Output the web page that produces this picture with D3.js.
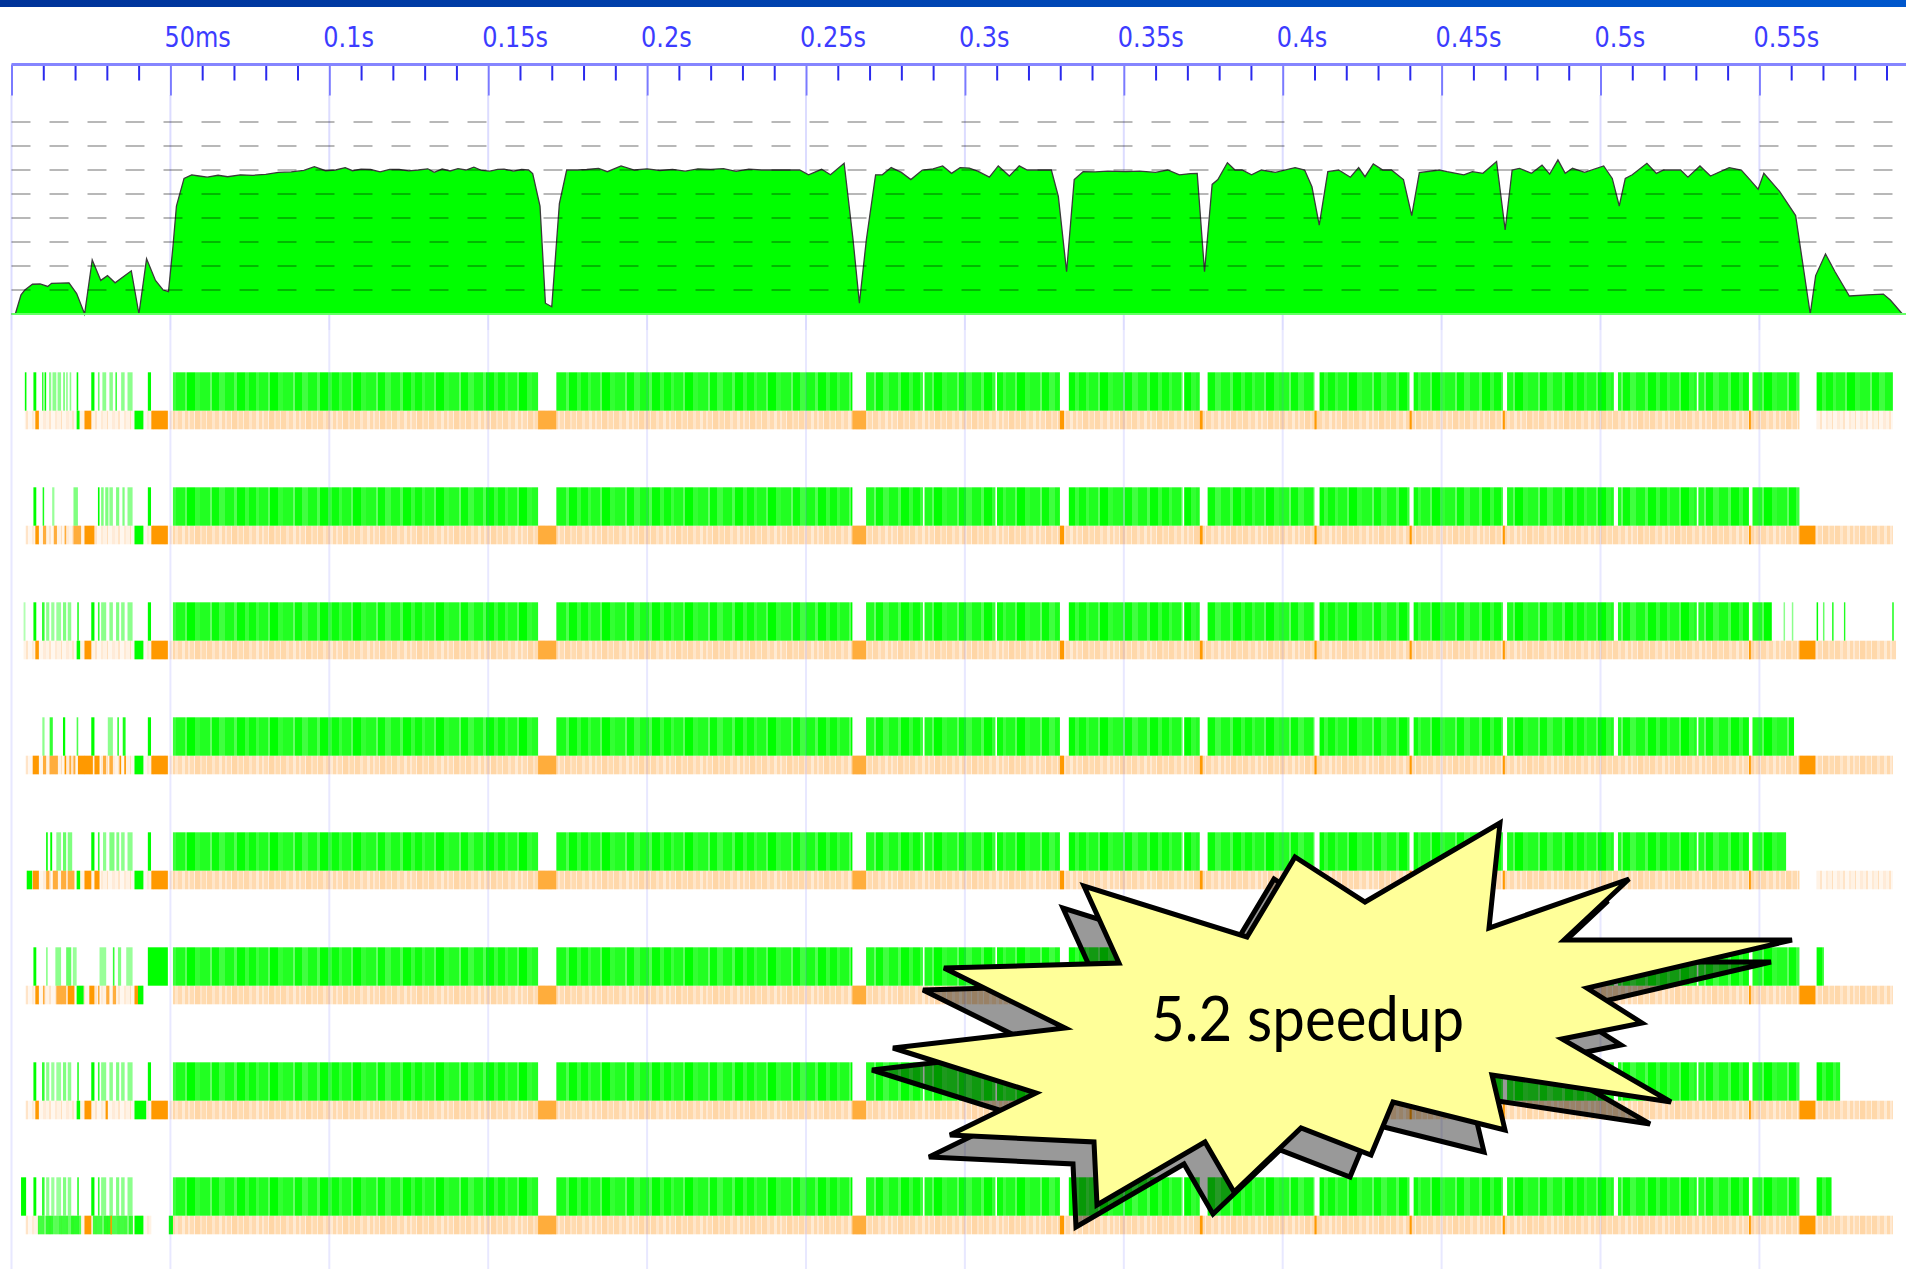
<!DOCTYPE html>
<html>
<head>
<meta charset="utf-8">
<script src="https://cdn.jsdelivr.net/npm/d3@7"></script>
<style>
  body { margin: 0; background: #fff; overflow: hidden; }
</style>
</head>
<body>
<script>
// ---- axis ----
var majorTicks = [0, 50, 100, 150, 200, 250, 300, 350, 400, 450, 500, 550];
var tickLabels = ["", "50ms", "0.1s", "0.15s", "0.2s", "0.25s", "0.3s", "0.35s", "0.4s", "0.45s", "0.5s", "0.55s"];
var gridLevels = [1, 2, 3, 4, 5, 6, 7, 8];

// ---- activity profile (time in ms, active HECs) ----
var actTime = [0, 1.2, 3.0, 4.2, 6.6, 9.0, 11.4, 12.6, 18.1, 20.5, 23.0, 25.4, 28.1, 30.2, 32.6, 37.7, 40.1, 42.5, 45.3, 47.7, 49.4,
  50.8, 51.9, 54.3, 56.7, 59, 61.6, 65, 68, 72, 76, 80, 84, 88, 92, 95.3, 98.8, 102, 105, 107.3, 110, 113, 116, 119, 122, 125,
  128, 131, 133, 135.5, 138, 140.5, 143, 145.5, 148, 150.5, 153, 155, 158, 160.5, 162.7, 164, 166.3, 168, 170, 172.4, 174.7,
  178, 181, 184.7, 187.5, 191.8, 196, 200, 204, 208, 212, 216, 220, 224, 228, 232, 236, 240, 244, 248, 250.8, 254.9, 257.7,
  262, 264.8, 266.8, 269, 271.9, 274, 276.8, 280, 283, 286.6, 290, 293, 295.8, 298.5, 301.4, 304.2, 307.7, 310.5, 314, 317.1,
  319.6, 323, 327.2, 329.4, 332, 334.4, 337.2, 341, 345, 350.5, 355, 360, 363.8, 367.5, 371, 373.1, 375.4, 377.8, 379.6, 382.6,
  385, 387.2, 390.2, 393.3, 397.7, 403.9, 406.9, 409.2, 411.5, 414.2, 417.6, 421.3, 423.9, 425.9, 428.5, 431.5, 434.2, 438,
  440.6, 443, 449.3, 451.7, 457, 459.7, 463, 467.3, 470, 472.2, 474.5, 478.3, 481.6, 484, 486.6, 488.9, 491.2, 495, 501, 503.7,
  505.9, 507.8, 510, 514.6, 517.6, 519.9, 525.2, 527.5, 531.3, 534.6, 540.5, 544.3, 547, 549.6, 551.4, 556.4, 561.4, 566,
  567.7, 570.8, 573.8, 578.3, 584, 589, 591.2, 595];
var actValue = [0, 0, 0.8, 1.0, 1.24, 1.25, 1.15, 1.28, 1.3, 0.85, 0, 2.25, 1.4, 1.6, 1.3, 1.8, 0, 2.3, 1.4, 1.0, 0.93,
  2.8, 4.5, 5.65, 5.8, 5.75, 5.7, 5.78, 5.72, 5.8, 5.78, 5.82, 5.9, 5.92, 5.98, 6.14, 5.97, 6.0, 6.1, 5.97, 6.04, 6.02, 5.92, 6.03, 6.02, 5.96,
  6.0, 6.05, 5.9, 6.04, 5.96, 6.06, 6.0, 6.12, 5.98, 5.95, 6.03, 6.04, 5.95, 6.02, 6.0, 5.85, 4.5, 0.45, 0.3, 4.6, 6.0,
  6.0, 6.02, 6.07, 5.93, 6.17, 6.0, 6.05, 5.98, 6.03, 5.95, 6.05, 6.03, 6.06, 5.94, 6.04, 6.0, 6.0, 6.0, 6.0, 5.8, 6.03, 5.8,
  6.28, 3.1, 0.45, 3.1, 5.8, 5.8, 6.1, 5.9, 5.6, 6.0, 6.05, 6.17, 5.86, 6.1, 6.08, 5.94, 5.7, 6.17, 5.75, 6.17,
  6.0, 6.0, 6.0, 4.9, 1.76, 5.6, 5.93, 5.92, 5.95, 5.93, 5.95, 5.9, 6.0, 5.8, 5.85, 5.86, 1.76, 5.4, 5.6, 6.3,
  6.0, 6.0, 5.8, 6.0, 5.9, 6.1, 6.0, 5.3, 3.7, 5.93, 6.0, 5.7, 6.1, 5.72, 6.25, 6.0, 6.0, 5.6,
  4.1, 5.89, 6.0, 5.93, 5.8, 5.93, 5.86, 6.35, 3.5, 6.0, 6.07, 5.86, 6.2, 5.83, 6.42, 5.86, 6.07, 5.9, 6.17, 5.65,
  4.5, 5.65, 5.8, 6.28, 5.86, 6.0, 6.0, 5.7, 6.17, 5.75, 6.1, 6.0, 5.6, 5.2, 5.86, 5.1, 4.1, 0,
  1.6, 2.5, 1.76, 0.75, 0.8, 0.83, 0.58, 0];

// ---- HEC rows: running periods shared by every row ----
var commonRuns = [[50.8, 165.7], [171.4, 264.6], [268.9, 286.8], [287.3, 309.6], [310.1, 329.9], [332.7, 368.5], [369.0, 373.9],
  [376.3, 410.0], [411.6, 439.9], [441.2, 469.3], [470.6, 504.2], [505.5, 530.3], [530.8, 546.7]];
// gc marks shared by every row
var commonMarks = [[165.7, 171.4, "gcl"], [264.6, 268.9, "gcl"], [329.9, 331.2, "gc"], [373.9, 374.8, "gc"], [410.0, 410.7, "gc"],
  [439.9, 440.6, "gc"], [469.3, 469.9, "gc"], [546.7, 547.3, "gc"]];

// runs at the end of each row
var rowTails = [
  [[547.8, 562.6], [568, 592]],
  [[547.8, 562.6]],
  [[547.8, 553.9], [568, 568.4], [572.9, 573.3], [576.6, 577.0], [591.8, 592.2]],
  [[547.8, 560.9]],
  [[547.8, 558.4]],
  [[547.8, 562.6], [568, 570.3]],
  [[547.8, 562.6], [568, 575.4]],
  [[547.8, 562.6], [568, 572.7]]
];

// short runs during start-up [start, end, strength]
var rowBlips = [
  [[4.2, 4.7, 1], [6.9, 7.8, 1], [9.6, 10.0, 0.8], [10.4, 10.9, 1], [11.8, 12.5, 0.45], [12.9, 14.1, 0.45], [14.5, 15.6, 0.45], [16.3, 16.7, 0.6],
   [17.2, 17.7, 0.45], [18.3, 18.8, 0.45], [20.5, 21.0, 1], [25.1, 26.1, 1], [27.2, 27.7, 0.6], [28.6, 29.8, 0.45], [30.8, 31.9, 0.45],
   [32.7, 33.1, 0.8], [34.5, 35.6, 0.45], [36.5, 38.1, 0.45], [42.9, 43.9, 1]],
  [[6.9, 7.8, 1], [9.8, 10.2, 0.9], [12.8, 13.5, 0.4], [19.5, 20.9, 0.5], [27.2, 27.7, 1], [28.2, 29.0, 0.5], [29.5, 30.5, 0.5],
   [30.8, 31.9, 0.45], [32.9, 33.9, 0.5], [34.9, 35.6, 0.5], [36.5, 38.1, 0.45], [42.9, 43.9, 1]],
  [[3.8, 4.4, 0.3], [6.9, 7.8, 1], [9.6, 10.4, 0.8], [10.9, 11.9, 0.45], [12.5, 13.5, 0.4], [14.1, 15.6, 0.4], [16.2, 17.2, 0.5],
   [17.7, 18.8, 0.45], [20.7, 21.1, 0.9], [25.1, 26.1, 1], [27.2, 27.7, 0.8], [28.2, 29.8, 0.45], [30.8, 31.9, 0.45],
   [32.9, 33.9, 0.5], [34.5, 35.6, 0.45], [36.5, 38.1, 0.45], [42.9, 43.9, 1], [557.6, 557.9, 0.45], [560.2, 560.5, 0.45], [570.0, 570.3, 0.6]],
  [[9.7, 10.4, 0.45], [12.0, 13.0, 0.8], [16.2, 16.9, 1], [20.5, 21.0, 0.7], [25.1, 26.1, 1], [30.3, 31.9, 0.45], [33.3, 33.8, 0.8],
   [35.0, 35.9, 0.9], [42.9, 43.9, 1]],
  [[10.9, 11.4, 1], [12.2, 12.8, 1], [14.1, 15.6, 0.45], [16.2, 17.2, 0.6], [17.7, 19.1, 0.5], [25.1, 26.1, 1], [27.2, 27.7, 0.8],
   [28.8, 29.8, 0.45], [30.8, 32.4, 0.5], [33.0, 33.9, 0.5], [34.5, 35.6, 0.45], [36.5, 38.1, 0.45], [42.9, 43.9, 1]],
  [[6.9, 7.8, 1], [10.9, 11.2, 0.5], [13.8, 15.6, 0.45], [17.2, 18.8, 0.6], [19.3, 20.5, 0.4], [27.7, 29.8, 0.4], [31.9, 32.4, 0.8],
   [33.5, 34.5, 0.5], [36.1, 38.1, 0.4], [42.9, 49.2, 1]],
  [[6.9, 7.8, 1], [9.6, 10.4, 0.8], [10.9, 11.9, 0.45], [12.5, 13.5, 0.4], [14.1, 15.6, 0.4], [16.2, 17.2, 0.5], [17.7, 18.8, 0.45],
   [20.7, 21.1, 0.9], [25.1, 26.1, 1], [27.2, 27.7, 0.8], [28.2, 29.8, 0.45], [30.8, 31.9, 0.45], [32.9, 33.9, 0.5],
   [34.5, 35.6, 0.45], [36.5, 38.1, 0.45], [42.9, 43.9, 1]],
  [[3.0, 4.6, 1], [6.9, 7.8, 1], [9.6, 10.4, 0.8], [10.9, 11.9, 0.45], [12.5, 13.5, 0.4], [14.1, 15.6, 0.4], [16.2, 17.2, 0.5],
   [17.7, 18.8, 0.45], [20.7, 21.1, 0.9], [25.1, 26.1, 1], [27.2, 27.7, 0.8], [28.2, 29.8, 0.45], [30.8, 31.9, 0.45],
   [32.9, 33.9, 0.5], [34.5, 35.6, 0.45], [36.5, 38.1, 0.45]]
];

// lower track extent per row [start, end, tone]
var rowTrack = [
  [[4.2, 50.8, "l"], [50.8, 562.6, "b"], [568, 592, "l"]],
  [[4.4, 50.8, "l"], [50.8, 592, "b"]],
  [[3.8, 50.8, "l"], [50.8, 593, "b"]],
  [[4.4, 50.8, "l"], [50.8, 592, "b"]],
  [[4.8, 50.8, "l"], [50.8, 562.6, "b"], [568, 592, "l"]],
  [[4.4, 41.5, "l"], [50.8, 592, "b"]],
  [[4.4, 50.8, "l"], [50.8, 592, "b"]],
  [[4.4, 44.0, "l"], [50.8, 592, "b"]]
];

// lower track marks per row [start, end, kind]
var rowMarks = [
  [[7.5, 8.6, "gc"], [20.5, 21.4, "run"], [23.0, 25.1, "gc"], [38.7, 41.5, "run"], [44.0, 49.2, "gc"]],
  [[7.5, 8.6, "gc"], [9.9, 10.9, "gcl"], [13.3, 14.3, "gcl"], [16.7, 17.2, "gcl"], [19.5, 21.9, "gcl"], [23.0, 26.1, "gc"],
   [38.7, 41.5, "run"], [44.0, 49.2, "gc"], [562.6, 567.6, "gc"]],
  [[7.5, 8.6, "gc"], [20.5, 21.6, "run"], [23.0, 25.1, "gc"], [38.7, 41.5, "run"], [44.0, 49.2, "gc"], [562.6, 567.6, "gc"]],
  [[6.7, 8.6, "gc"], [9.9, 10.9, "gcl"], [12.0, 14.6, "gcl"], [16.7, 17.2, "gc"], [18.2, 18.8, "gcl"], [19.5, 20.1, "gcl"],
   [20.9, 25.6, "gc"], [26.1, 27.7, "gc"], [28.8, 29.8, "gcl"], [30.8, 31.9, "gcl"], [34.0, 34.5, "gc"], [35.5, 36.0, "gc"],
   [38.7, 41.5, "run"], [44.0, 49.2, "gc"], [562.6, 567.6, "gc"]],
  [[4.8, 6.5, "run"], [6.7, 8.6, "gc"], [10.9, 11.9, "gcl"], [13.0, 14.6, "gcl"], [15.6, 17.2, "gcl"], [17.7, 19.8, "gcl"],
   [20.5, 21.6, "run"], [23.0, 25.1, "gc"], [26.1, 27.7, "gc"], [38.7, 41.5, "run"], [44.0, 49.2, "gc"]],
  [[7.5, 8.6, "gc"], [9.9, 10.4, "gcl"], [14.1, 17.2, "gcl"], [17.7, 19.8, "gc"], [20.5, 22.7, "run"], [24.5, 26.1, "gc"],
   [27.2, 27.7, "gcl"], [29.8, 30.8, "gcl"], [31.9, 32.9, "gcl"], [38.7, 39.8, "gc"], [39.8, 41.5, "run"], [562.6, 567.6, "gc"]],
  [[7.5, 8.6, "gc"], [20.5, 21.6, "run"], [23.0, 25.1, "gc"], [29.6, 30.3, "gc"], [38.7, 42.4, "run"], [44.0, 49.2, "gc"],
   [562.6, 567.6, "gc"]],
  [[8.3, 21.9, "runs"], [23.0, 25.1, "gc"], [25.6, 38.2, "runs"], [31.1, 31.6, "gc"], [38.7, 41.5, "run"], [49.5, 50.8, "run"],
   [562.6, 567.6, "gc"]]
];

var burstText = "5.2 speedup";

var width = 1906, height = 1269;

var x = d3.scaleLinear().domain([0, 600]).range([11.5, 11.5 + 600 * 3.178]);
var yAct = d3.scaleLinear().domain([0, 8]).range([314, 122]);
var rowY = d3.scaleLinear().domain([0, 7]).range([372.3, 1177.3]);
var runH = 38.4, trackH = 18.6;

var svg = d3.select("body").append("svg")
  .attr("width", width)
  .attr("height", height)
  .style("font-family", "'DejaVu Sans', sans-serif");

var defs = svg.append("defs");

var grad = defs.append("linearGradient").attr("id", "topbar");
grad.append("stop").attr("offset", "0%").attr("stop-color", "#003399");
grad.append("stop").attr("offset", "100%").attr("stop-color", "#0057cc");

// stripe textures for the bars
function stripePattern(id, w, stripes) {
  var p = defs.append("pattern").attr("id", id)
    .attr("patternUnits", "userSpaceOnUse")
    .attr("width", w).attr("height", 40);
  stripes.forEach(function(s) {
    p.append("rect").attr("x", s[0]).attr("y", 0).attr("width", s[1]).attr("height", 40).attr("fill", s[2]);
  });
}
stripePattern("greenStripes", 83, [[0, 7, "#0dff0d"], [7, 3, "#3cff3c"], [10, 9, "#1fff1f"], [19, 2, "#5cff5c"], [21, 8, "#00ff00"],
  [29, 5, "#33ff33"], [34, 10, "#22ff22"], [44, 2, "#66ff66"], [46, 7, "#0aff0a"], [53, 6, "#40ff40"], [59, 9, "#1aff1a"],
  [68, 3, "#50ff50"], [71, 8, "#05ff05"], [79, 4, "#38ff38"]]);
stripePattern("peach", 37, [[0, 3, "#ffd9ad"], [3, 2, "#ffe9d2"], [5, 4, "#ffdcb4"], [9, 1, "#fff0e0"], [10, 5, "#ffd6a6"],
  [15, 2, "#ffe4c6"], [17, 4, "#ffdbb0"], [21, 1, "#ffeeda"], [22, 5, "#ffd8aa"], [27, 3, "#ffe6ca"], [30, 4, "#ffdab0"], [34, 3, "#ffebd4"]]);
stripePattern("peachLight", 23, [[0, 3, "#fff3e6"], [3, 2, "#ffe4c8"], [5, 4, "#fff7ef"], [9, 2, "#ffead4"], [11, 4, "#fff2e4"],
  [15, 1, "#ffdfbd"], [16, 4, "#fff6ec"], [20, 3, "#ffebd8"]]);

// top bar
svg.append("rect").attr("x", 0).attr("y", 0).attr("width", width).attr("height", 7).attr("fill", "url(#topbar)");

// background grid (behind activity graph)
svg.append("g").selectAll("line").data(majorTicks).join("line")
  .attr("x1", function(d) { return x(d); }).attr("x2", function(d) { return x(d); })
  .attr("y1", 95).attr("y2", 330)
  .attr("stroke", "#dcdcff").attr("stroke-width", 2);

// time axis
var minorTicks = d3.range(10, 600, 10).filter(function(d) { return d % 50 !== 0; });
svg.append("g").attr("transform", "translate(0,64.5)")
  .call(d3.axisBottom(x).tickValues(minorTicks).tickSize(16).tickSizeOuter(0).tickFormat(""))
  .call(function(g) { g.select(".domain").remove(); })
  .selectAll("line").attr("stroke", "#2a2aee").attr("stroke-width", 2);
svg.append("g").attr("transform", "translate(0,64.5)")
  .call(d3.axisBottom(x).tickValues(majorTicks).tickSize(31).tickSizeOuter(0).tickFormat(""))
  .call(function(g) { g.select(".domain").remove(); })
  .selectAll("line").attr("stroke", "#7a7aff").attr("stroke-width", 2);
svg.append("line").attr("x1", x(0)).attr("x2", width).attr("y1", 64.5).attr("y2", 64.5)
  .attr("stroke", "#8585ff").attr("stroke-width", 3);

svg.append("g").selectAll("text").data(majorTicks.slice(1)).join("text")
  .attr("transform", function(d) { return "translate(" + (x(d) - 6) + ",47) scale(1,1.2)"; })
  .attr("font-size", 24)
  .attr("fill", "#3c3cff")
  .text(function(d, i) { return tickLabels[i + 1]; });

// activity graph
var actData = actTime.map(function(t, i) { return [t, actValue[i]]; });
var area = d3.area().x(function(d) { return x(d[0]); }).y0(yAct(0)).y1(function(d) { return yAct(d[1]); });
var line = d3.line().x(function(d) { return x(d[0]); }).y(function(d) { return yAct(d[1]); });
svg.append("path").datum(actData).attr("d", area).attr("fill", "#00ff00");
svg.append("path").datum(actData).attr("d", line).attr("fill", "none").attr("stroke", "#3a3a3a").attr("stroke-width", 1.3);
svg.append("line").attr("x1", x(0)).attr("x2", width).attr("y1", yAct(0)).attr("y2", yAct(0))
  .attr("stroke", "#66ff66").attr("stroke-width", 2);

svg.append("g").selectAll("line").data(gridLevels).join("line")
  .attr("x1", x(0)).attr("x2", width)
  .attr("y1", function(d) { return yAct(d); }).attr("y2", function(d) { return yAct(d); })
  .attr("stroke", "#000").attr("stroke-opacity", 0.28).attr("stroke-width", 2)
  .attr("stroke-dasharray", "19 19");

// HEC rows
var markFill = { gc: "#ff9900", gcl: "#ffad3c", run: "#00ff00", runs: "url(#greenStripes)" };

function wid(a, b) { return Math.max(1.5, x(b) - x(a)); }

rowTrack.forEach(function(track, i) {
  var g = svg.append("g");
  var y0 = rowY(i);

  g.selectAll("rect.trk").data(track).join("rect")
    .attr("x", function(d) { return x(d[0]); })
    .attr("y", y0 + runH)
    .attr("width", function(d) { return wid(d[0], d[1]); })
    .attr("height", trackH)
    .attr("fill", function(d) { return d[2] === "l" ? "url(#peachLight)" : "url(#peach)"; });

  g.selectAll("rect.cm").data(commonMarks).join("rect")
    .attr("x", function(d) { return x(d[0]); })
    .attr("y", y0 + runH)
    .attr("width", function(d) { return wid(d[0], d[1]); })
    .attr("height", trackH)
    .attr("fill", function(d) { return markFill[d[2]]; });

  g.selectAll("rect.mk").data(rowMarks[i]).join("rect")
    .attr("x", function(d) { return x(d[0]); })
    .attr("y", y0 + runH)
    .attr("width", function(d) { return wid(d[0], d[1]); })
    .attr("height", trackH)
    .attr("fill", function(d) { return markFill[d[2]]; })
    .attr("fill-opacity", function(d) { return d[2] === "runs" ? 0.85 : 1; });

  var runs = commonRuns.concat(rowTails[i]);
  g.selectAll("rect.run").data(runs).join("rect")
    .attr("x", function(d) { return x(d[0]); })
    .attr("y", y0)
    .attr("width", function(d) { return wid(d[0], d[1]); })
    .attr("height", runH)
    .attr("fill", "url(#greenStripes)");

  g.selectAll("rect.blip").data(rowBlips[i]).join("rect")
    .attr("x", function(d) { return x(d[0]); })
    .attr("y", y0)
    .attr("width", function(d) { return wid(d[0], d[1]); })
    .attr("height", runH)
    .attr("fill", "#00ff00")
    .attr("fill-opacity", function(d) { return d[2]; });
});

// grid over rows
svg.append("g").selectAll("line").data(majorTicks).join("line")
  .attr("x1", function(d) { return x(d); }).attr("x2", function(d) { return x(d); })
  .attr("y1", 330).attr("y2", height)
  .attr("stroke", "#6666ff").attr("stroke-opacity", 0.15).attr("stroke-width", 2);

// starburst call-out
var burstPts = [[1500, 823], [1489, 928], [1629, 879], [1564, 940], [1792, 940], [1587, 988], [1642, 1023], [1562, 1039],
  [1671, 1102], [1492, 1075], [1505, 1130], [1393, 1102], [1371, 1155], [1301, 1128], [1234, 1192], [1205, 1142],
  [1097, 1205], [1094, 1142], [950, 1135], [1036, 1093], [893, 1048], [1065, 1028], [944, 968], [1119, 963],
  [1084, 886], [1247, 937], [1295, 857], [1365, 902]];
var burstPath = "M" + burstPts.map(function(p) { return p.join(","); }).join("L") + "Z";

svg.append("path").attr("d", burstPath)
  .attr("transform", "translate(-21,22)")
  .attr("fill", "#000").attr("fill-opacity", 0.4)
  .attr("stroke", "#000").attr("stroke-width", 5).attr("stroke-linejoin", "miter");
svg.append("path").attr("d", burstPath)
  .attr("fill", "#ffff99")
  .attr("stroke", "#000").attr("stroke-width", 5).attr("stroke-linejoin", "miter");
svg.append("text")
  .attr("x", 1151).attr("y", 1041)
  .attr("font-family", "Lato, 'Open Sans', sans-serif")
  .attr("font-size", 62)
  .attr("textLength", 313)
  .attr("lengthAdjust", "spacingAndGlyphs")
  .attr("fill", "#000")
  .text(burstText);
</script>
</body>
</html>
